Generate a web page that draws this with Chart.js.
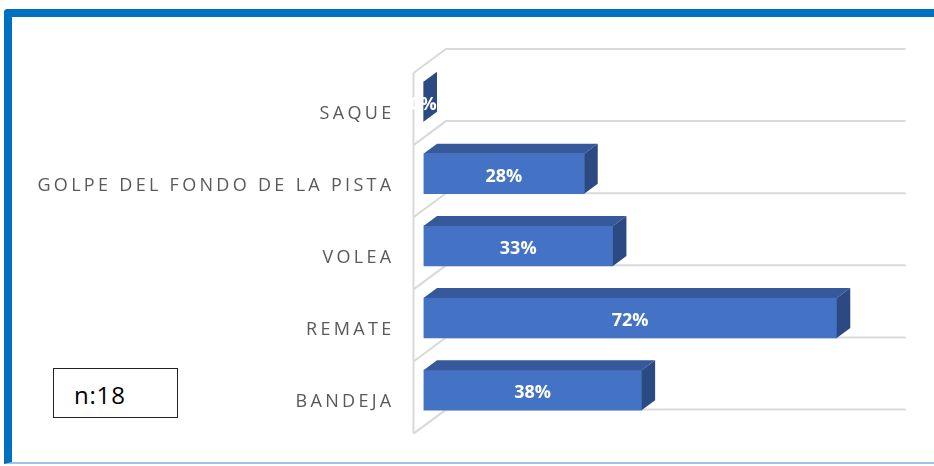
<!DOCTYPE html>
<html>
<head>
<meta charset="utf-8">
<script src="https://cdn.jsdelivr.net/npm/chart.js@4/dist/chart.umd.min.js"></script>
<style>
  html, body { margin: 0; padding: 0; background: #fff; }
  #wrap { position: relative; width: 934px; height: 466px; overflow: hidden; }
  #frame {
    position: absolute; left: 4px; top: 9px; width: 960px; height: 455px;
    border-top: 8px solid #0070C0; border-left: 8px solid #0070C0;
    border-bottom: 2px solid #9DC3E6; border-top-left-radius: 4px;
    box-sizing: border-box;
  }
  #n {
    position: absolute; left: 53px; top: 368px; width: 125px; height: 50px;
    border: 1px solid #222; box-sizing: border-box; background: #fff;
    font: 24px "Open Sans", sans-serif; color: #000; letter-spacing: 0.8px;
    padding-left: 20px; line-height: 52px;
  }
  canvas { position: absolute; left: 0; top: 0; }
</style>
</head>
<body>
<div id="wrap">
  <div id="frame"></div>
  <canvas id="myChart" width="934" height="466"></canvas>
  <div id="n">n:18</div>
</div>
<script>
const categories = ['SAQUE', 'GOLPE DEL FONDO DE LA PISTA', 'VOLEA', 'REMATE', 'BANDEJA']
const values = [0, 28, 33, 72, 38]
const valueLabels = ['0%', '28%', '33%', '72%', '38%']

// fake 3D: top and side faces of the bars, plus the walls
const depth = { dx: 13.5, dy: 10 }
const wall = { dx: 32.5, dy: 24 }

const walls = {
  id: 'walls',
  beforeDraw(chart) {
    chart.ctx.letterSpacing = '3.3px'
  },
  beforeDatasetsDraw(chart) {
    const ctx = chart.ctx
    ctx.letterSpacing = '0px'
    const area = chart.chartArea
    const y = chart.scales.y
    const x = chart.scales.x
    const band = y.getPixelForValue(1) - y.getPixelForValue(0)
    const front = area.left - 10
    const back = front + wall.dx
    const end = x.getPixelForValue(x.max) + 23
    ctx.save()
    ctx.strokeStyle = '#D9D9D9'
    ctx.lineWidth = 2
    ctx.beginPath()
    for (let i = 0; i <= categories.length; i++) {
      const yb = y.getPixelForValue(i) - band / 2 - 16.6
      ctx.moveTo(end, yb)
      ctx.lineTo(back, yb)
      ctx.lineTo(front, yb + wall.dy)
    }
    const first = y.getPixelForValue(0) - band / 2 - 16.6 + wall.dy
    const last = y.getPixelForValue(categories.length) - band / 2 - 16.6 + wall.dy
    ctx.moveTo(front, first)
    ctx.lineTo(front, last)
    ctx.stroke()
    ctx.restore()
  },
  afterDatasetsDraw(chart) {
    const ctx = chart.ctx
    const bars = chart.getDatasetMeta(0).data
    ctx.save()
    bars.forEach((bar, i) => {
      const h = bar.height
      const l = bar.base
      const r = bar.x
      const t = bar.y - h / 2
      const b = bar.y + h / 2
      ctx.fillStyle = '#35599B'
      ctx.beginPath()
      ctx.moveTo(l, t)
      ctx.lineTo(l + depth.dx, t - depth.dy)
      ctx.lineTo(r + depth.dx, t - depth.dy)
      ctx.lineTo(r, t)
      ctx.closePath()
      ctx.fill()
      ctx.fillStyle = '#2B4A83'
      ctx.beginPath()
      ctx.moveTo(r, t)
      ctx.lineTo(r + depth.dx, t - depth.dy)
      ctx.lineTo(r + depth.dx, b - depth.dy)
      ctx.lineTo(r, b)
      ctx.closePath()
      ctx.fill()
      ctx.fillStyle = '#fff'
      ctx.font = 'bold 18px "Open Sans"'
      ctx.textAlign = 'center'
      ctx.textBaseline = 'middle'
      ctx.fillText(valueLabels[i], (l + r) / 2, bar.y + 3)
    })
    ctx.restore()
  },
}

const ctx = document.getElementById('myChart').getContext('2d')
const chart = new Chart(ctx, {
  type: 'bar',
  data: {
    labels: categories,
    datasets: [
      {
        data: values,
        backgroundColor: '#4472C4',
        borderWidth: 0,
        barThickness: 40,
      },
    ],
  },
  options: {
    indexAxis: 'y',
    responsive: false,
    animation: false,
    layout: { padding: { left: 0, right: 51.3, top: 65.6, bottom: 37.4 } },
    plugins: { legend: { display: false }, tooltip: { enabled: false } },
    scales: {
      x: { display: false, min: 0, max: 80 },
      y: {
        grid: { display: false, drawTicks: false },
        border: { display: false },
        afterFit(scale) {
          scale.width = 423.5
        },
        ticks: {
          color: '#595959',
          font: { family: 'Open Sans', size: 18 },
          padding: 29,
          labelOffset: 12,
          autoSkip: false,
        },
      },
    },
  },
  plugins: [walls],
})
</script>
</body>
</html>
